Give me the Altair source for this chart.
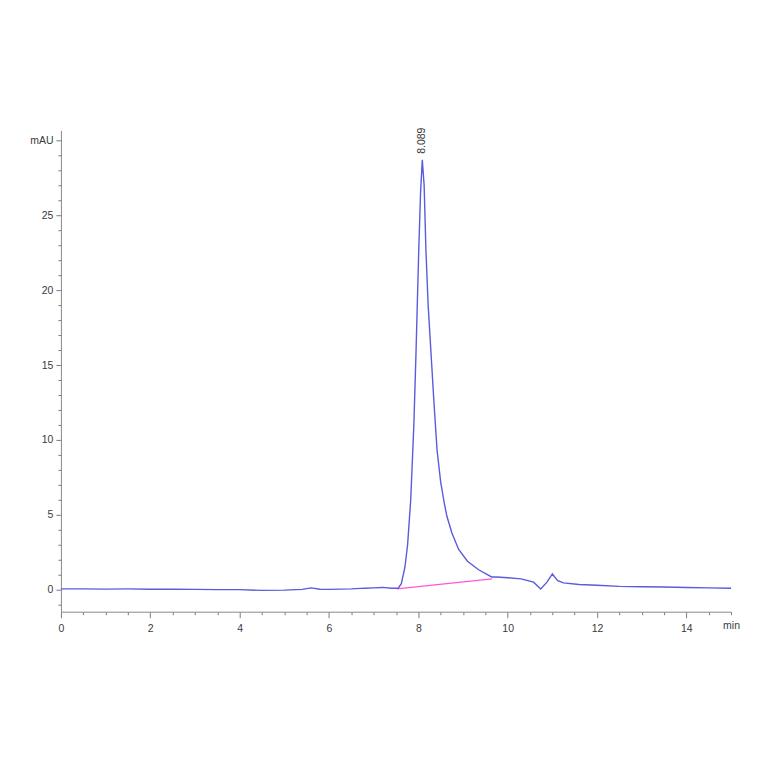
import altair as alt
import pandas as pd

# Chromatogram trace (time in min, absorbance in mAU)
time_min = [0, 0.5, 1, 1.5, 2, 2.5, 3, 3.5, 4, 4.5, 5, 5.4, 5.6, 5.8, 6, 6.5, 6.8, 7.0, 7.2, 7.4,
            7.55, 7.62, 7.7, 7.76, 7.83, 7.9, 7.95, 8.01, 8.05, 8.089, 8.13, 8.17, 8.22, 8.28, 8.35,
            8.42, 8.5, 8.58, 8.64, 8.75, 8.9, 9.1, 9.35, 9.64, 9.75, 10.0, 10.3, 10.58, 10.74, 10.88,
            11.0, 11.12, 11.25, 11.6, 12.0, 12.5, 13.0, 13.5, 14.0, 14.5, 15.0]
signal_mau = [0.05, 0.05, 0.04, 0.05, 0.03, 0.03, 0.02, 0.0, 0.0, -0.05, -0.03, 0.02, 0.12, 0.03, 0.02,
              0.05, 0.1, 0.12, 0.15, 0.1, 0.1, 0.4, 1.5, 3.0, 6.0, 11.0, 16.0, 22.7, 26.5, 28.7, 27.0,
              22.7, 19.0, 16.0, 12.5, 9.3, 7.2, 5.8, 4.9, 3.8, 2.7, 1.9, 1.33, 0.85, 0.85, 0.8, 0.72,
              0.5, 0.05, 0.5, 1.05, 0.6, 0.45, 0.35, 0.3, 0.22, 0.2, 0.18, 0.15, 0.12, 0.1]

# Integration baseline
base_time = [7.52, 9.65]
base_mau = [0.05, 0.72]

# Peak label
peak_time = [8.089]
peak_mau = [29.1]
peak_label = ["8.089"]

x_ticks = [v * 0.5 for v in range(0, 31)]
y_ticks = list(range(-1, 31))

trace = pd.DataFrame({"t": time_min, "v": signal_mau})
base = pd.DataFrame({"t": base_time, "v": base_mau})
peak = pd.DataFrame({"t": peak_time, "v": peak_mau, "lab": peak_label})

FONT = "Liberation Sans"
xscale = alt.Scale(domain=[0, 15], nice=False, zero=False)
yscale = alt.Scale(domain=[-1.47, 30.67], nice=False, zero=False)

x_axis = alt.Axis(
    values=x_ticks, title=None, grid=False, domain=True, domainColor="#8a8a8a",
    tickColor="#7a7a7a", labelColor="#3a3a3a", labelFont=FONT, labelFontSize=10.5,
    labelOverlap=False, labelPadding=6, labelFlush=False, format="~g",
    tickSize={"condition": {"test": "datum.value % 2 === 0", "value": 6}, "value": 3},
    labelExpr="datum.value === 15 ? 'min' : (datum.value % 2 === 0 ? datum.label : '')",
)
y_axis = alt.Axis(
    values=y_ticks, title=None, grid=False, domain=True, domainColor="#8a8a8a",
    tickColor="#7a7a7a", labelColor="#3a3a3a", labelFont=FONT, labelFontSize=10.5,
    labelOverlap=False, labelPadding=3, labelFlush=False, format="~g",
    tickSize={"condition": {"test": "datum.value % 5 === 0", "value": 5}, "value": 3},
    labelExpr="datum.value === 30 ? 'mAU' : (datum.value % 5 === 0 ? datum.label : '')",
)

X = alt.X("t:Q", scale=xscale, axis=x_axis)
Y = alt.Y("v:Q", scale=yscale, axis=y_axis)

line = alt.Chart(trace).mark_line(color="#5b5bde", strokeWidth=1.4).encode(x=X, y=Y)
bl = alt.Chart(base).mark_line(color="#ff55dd", strokeWidth=1.4).encode(x=X, y=Y)
txt = alt.Chart(peak).mark_text(angle=270, align="left", baseline="middle", font=FONT,
                                fontSize=10.5, color="#333333").encode(x=X, y=Y, text="lab:N")

chart = alt.layer(bl, line, txt).properties(
    width=671, height=482, autosize="none", background="white",
    padding={"left": 53, "top": 122, "right": 25, "bottom": 140},
).configure_view(stroke=None)

chart.save("out.html", embed_options={"renderer": "svg", "actions": False})
